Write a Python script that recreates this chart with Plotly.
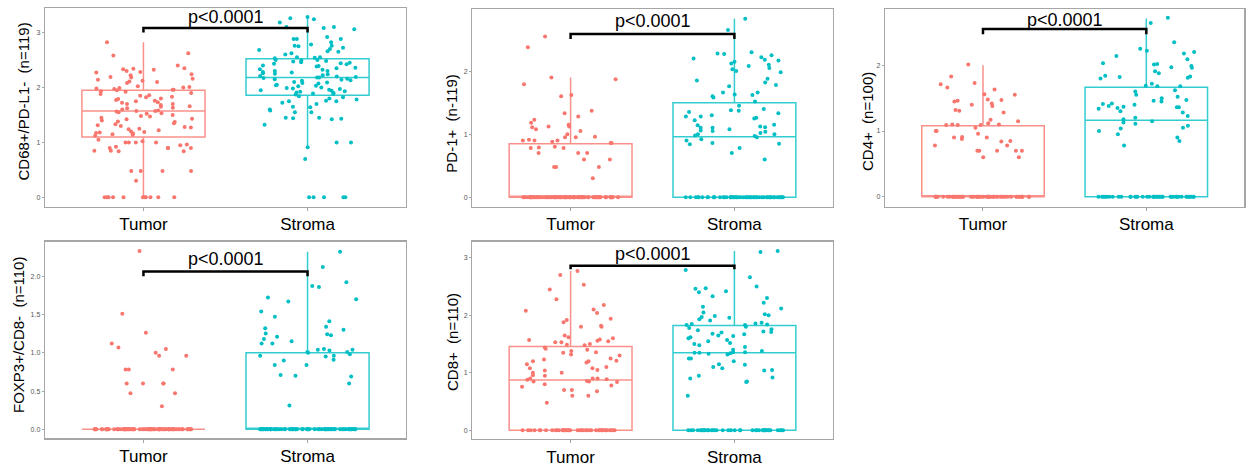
import plotly.graph_objects as go

W, H = 1254, 468

categories = ["Tumor", "Stroma"]
panel_titles = ["CD68+/PD-L1-  (n=119)", "PD-1+  (n-119)", "CD4+  (n=100)",
                "FOXP3+/CD8-  (n=110)", "CD8+  (n=110)"]
p_label = "p<0.0001"

# ---------------- point values ----------------
cd68_tumor = [2.82, 2.62, 2.58, 2.40, 2.35, 2.34, 2.33, 2.32, 2.30, 2.28, 2.27, 2.24, 2.22, 2.19,
              2.18, 2.16, 2.14, 2.12, 2.11, 2.10, 2.08, 2.02, 2.01, 2.00, 1.99, 1.98, 1.97, 1.96,
              1.96, 1.95,
              1.93, 1.92, 1.90, 1.88, 1.86, 1.85, 1.83, 1.82, 1.80, 1.79, 1.77, 1.76, 1.75, 1.73,
              1.72, 1.70, 1.70, 1.68, 1.66, 1.65, 1.63, 1.62, 1.60, 1.58, 1.57, 1.57, 1.56, 1.55,
              1.53, 1.52, 1.50, 1.48, 1.47, 1.45, 1.43, 1.42, 1.40, 1.38, 1.37, 1.35, 1.33, 1.31,
              1.30, 1.28, 1.27, 1.25, 1.24, 1.22, 1.20, 1.19, 1.18, 1.17, 1.16, 1.15, 1.14, 1.12,
              1.05, 1.02, 1.00, 1.00, 1.00, 1.00, 0.96, 0.95, 0.92, 0.90, 0.90, 0.90, 0.90, 0.85,
              0.85, 0.84, 0.84, 0.48, 0.48, 0.48, 0.48, 0.30] + [0.0] * 11
cd68_stroma = [3.28, 3.26, 3.24, 3.18, 3.10, 3.10, 3.08, 3.06, 2.92, 2.88, 2.88, 2.88, 2.82, 2.78,
               2.76, 2.76, 2.75, 2.72, 2.70, 2.68, 2.66, 2.65, 2.62, 2.60, 2.55, 2.55, 2.54, 2.53,
               2.50, 2.50, 2.49, 2.48, 2.47, 2.46, 2.45, 2.44, 2.43, 2.42, 2.40, 2.39, 2.38, 2.36,
               2.35, 2.33, 2.32, 2.30, 2.30, 2.28, 2.27, 2.26, 2.25, 2.24, 2.22, 2.21, 2.20, 2.19,
               2.18, 2.18, 2.17, 2.16, 2.15, 2.14, 2.13, 2.12, 2.10, 2.09, 2.08, 2.07, 2.05, 2.04,
               2.03, 2.02, 2.00, 1.99, 1.98, 1.97, 1.96, 1.95, 1.94, 1.93, 1.92, 1.91, 1.90, 1.89,
               1.88, 1.87,
               1.84, 1.82, 1.80, 1.78, 1.76, 1.75, 1.75, 1.72, 1.70, 1.65, 1.64, 1.60, 1.58, 1.55,
               1.55, 1.45, 1.45, 1.44, 1.43, 1.42, 1.32, 1.00, 1.00, 0.91, 0.70] + [0.0] * 5

pd1_tumor = [2.55, 2.38, 1.90, 1.87, 1.79, 1.62, 1.60, 1.37, 1.33, 1.28, 1.23, 1.18, 1.15, 1.12,
             1.12, 1.11, 1.08, 1.05, 1.00, 0.96, 0.95, 0.95, 0.91, 0.90, 0.90, 0.90, 0.88, 0.86,
             0.86,
             0.80, 0.79, 0.78, 0.78, 0.70, 0.70, 0.70, 0.60, 0.60, 0.48, 0.48, 0.48, 0.30] + [0.0] * 77
pd1_stroma = [2.83, 2.65, 2.30, 2.28, 2.27, 2.25, 2.22, 2.20, 2.18, 2.17, 2.15, 2.12, 2.10, 2.08,
              2.05, 2.03, 2.00, 1.98, 1.88, 1.85, 1.82, 1.78, 1.76, 1.66, 1.66, 1.63, 1.62, 1.60,
              1.58, 1.52,
              1.45, 1.40, 1.38, 1.37, 1.35, 1.33, 1.30, 1.28, 1.28, 1.26, 1.25, 1.22, 1.15, 1.14,
              1.12, 1.11, 1.10, 1.10, 1.08, 1.06, 1.05, 1.04, 1.02, 1.00, 1.00, 0.98, 0.97,
              0.95, 0.92, 0.90, 0.86, 0.85, 0.84, 0.78, 0.70, 0.60] + [0.0] * 53

cd4_tumor = [2.01, 1.83, 1.73, 1.71, 1.66, 1.63, 1.56, 1.55, 1.48, 1.47, 1.46, 1.45, 1.42, 1.40,
             1.38, 1.32, 1.31, 1.28, 1.17, 1.15, 1.12, 1.10, 1.10, 1.09, 1.09, 1.09,
             1.05, 1.00, 1.00, 0.96, 0.91, 0.90, 0.90, 0.88, 0.85, 0.84, 0.78, 0.78, 0.70, 0.70,
             0.70, 0.70, 0.70, 0.60, 0.60] + [0.0] * 55
cd4_stroma = [2.72, 2.64, 2.35, 2.25, 2.22, 2.20, 2.18, 2.14, 2.09, 2.03, 2.02, 2.01, 1.99, 1.97,
              1.96, 1.91, 1.88, 1.84, 1.83, 1.82, 1.81, 1.80, 1.72, 1.69, 1.68, 1.68,
              1.62, 1.60, 1.55, 1.52, 1.50, 1.47, 1.46, 1.45, 1.42, 1.41, 1.40, 1.38, 1.37, 1.36,
              1.36, 1.35, 1.34, 1.30, 1.28, 1.23, 1.20, 1.18,
              1.15, 1.13, 1.11, 1.08, 1.05, 1.04, 1.00, 0.95, 0.90, 0.85, 0.78] + [0.0] * 41

foxp3_tumor = [2.33, 1.51, 1.26, 1.12, 1.07, 1.05, 1.00, 0.96, 0.96, 0.78, 0.78, 0.78, 0.60, 0.60,
               0.60, 0.60, 0.47, 0.47, 0.30] + [0.0] * 91
foxp3_stroma = [2.32, 2.12, 1.92, 1.87, 1.86, 1.72, 1.70, 1.67, 1.54, 1.47, 1.41, 1.34, 1.32, 1.30,
                1.25, 1.24, 1.23, 1.21, 1.18, 1.15, 1.12, 1.12, 1.05, 1.04, 1.04, 1.03, 1.01, 1.01,
                1.00, 0.98, 0.96, 0.96, 0.95, 0.91, 0.90, 0.84, 0.84, 0.71, 0.70, 0.69, 0.60,
                0.31] + [0.0] * 68

cd8_tumor = [2.77, 2.70, 2.53, 2.45, 2.28, 2.18, 2.10, 2.08, 2.04, 1.94, 1.92, 1.88, 1.82, 1.80,
             1.80, 1.65, 1.62, 1.60, 1.58, 1.57, 1.56, 1.55, 1.53, 1.53, 1.50, 1.49, 1.48,
             1.44, 1.42, 1.40, 1.38, 1.36, 1.35, 1.32, 1.30, 1.25, 1.23, 1.21, 1.20, 1.20, 1.18,
             1.15, 1.10, 1.08, 1.08, 1.05, 1.04, 1.00, 1.00, 0.96, 0.95, 0.90, 0.90, 0.90, 0.89,
             0.88,
             0.86, 0.85, 0.85, 0.84, 0.80, 0.78, 0.76, 0.70, 0.70, 0.68, 0.60, 0.60, 0.48] + [0.0] * 41
cd8_stroma = [3.12, 3.10, 2.79, 2.66, 2.50, 2.47, 2.46, 2.42, 2.40, 2.33, 2.30, 2.22, 2.15, 2.12,
              2.05, 2.02, 2.00, 1.99, 1.97, 1.96, 1.93, 1.91, 1.87, 1.86, 1.85, 1.84, 1.83, 1.83,
              1.80, 1.78, 1.76, 1.74, 1.72, 1.71, 1.70, 1.68, 1.67, 1.65, 1.64, 1.62, 1.60, 1.57,
              1.55, 1.52, 1.50, 1.48, 1.45, 1.40, 1.38, 1.36, 1.36, 1.35, 1.35,
              1.34, 1.33, 1.32, 1.25, 1.25, 1.20, 1.15, 1.14, 1.10, 1.08, 1.05, 1.04, 0.95, 0.92,
              0.90, 0.85, 0.84, 0.60] + [0.0] * 39

panel_points = [(cd68_tumor, cd68_stroma), (pd1_tumor, pd1_stroma), (cd4_tumor, cd4_stroma),
                (foxp3_tumor, foxp3_stroma), (cd8_tumor, cd8_stroma)]

# ---------------- box statistics, [Tumor, Stroma] ----------------
box_q1 = [[1.10, 1.86], [0.0, 0.0], [0.0, 0.0], [0.0, 0.0], [0.0, 0.0]]
box_median = [[1.57, 2.18], [0.0, 0.96], [0.0, 1.165], [0.0, 0.0], [0.874, 1.35]]
box_q3 = [[1.95, 2.52], [0.85, 1.50], [1.08, 1.666], [0.0, 1.00], [1.46, 1.824]]
box_low = [[0.0, 0.91], [0.0, 0.0], [0.0, 0.0], [0.0, 0.0], [0.0, 0.0]]
box_high = [[2.82, 3.26], [1.90, 2.83], [2.00, 2.71], [0.0, 2.32], [2.77, 3.12]]

# significance brackets: (end tip, bar level, label level)
bracket_tip = [3.00, 2.51, 2.47, 2.00, 2.80]
bracket_bar = [3.08, 2.59, 2.55, 2.06, 2.86]
label_level = [3.28, 2.79, 2.68, 2.22, 3.06]

# axis ticks
y_tickvals = [[0, 1, 2, 3], [0, 1, 2], [0, 1, 2], [0, 0.5, 1, 1.5, 2], [0, 1, 2, 3]]
y_ticktext = [["0", "1", "2", "3"], ["0", "1", "2"], ["0", "1", "2"],
              ["0.0", "0.5", "1.0", "1.5", "2.0"], ["0", "1", "2", "3"]]
y_ranges = [[-0.17, 3.44], [-0.15, 2.98], [-0.15, 2.85], [-0.117, 2.45], [-0.15, 3.28]]

# ---------------- layout geometry (pixels) ----------------
frames = [(45, 406, 8.3, 206.7), (472.3, 832.7, 9.3, 206.7), (885, 1244.3, 9.3, 206.7),
          (45, 406, 241.7, 438.3), (472.3, 832.7, 241.7, 439)]
ytitle_pos = [(23, 101.5), (451.7, 123), (868, 122), (18, 335), (452, 342)]

point_colors = ["#F8766D", "#00BFC4"]
line_colors = ["rgba(248,118,109,0.8)", "rgba(0,191,196,0.8)"]
FONT = "Liberation Sans, Arial, sans-serif"


def jitter_offsets(n, phase):
    # deterministic horizontal jitter (display only), spread over +/-0.3 category units
    a, b = 0.6180339887, 0.2071067812
    return [(((k * a + k * k * b + phase) % 1.0) - 0.5) * 0.6 for k in range(n)]


fig = go.Figure()
annotations = []
layout_axes = {}

for i in range(5):
    xa = "x" if i == 0 else f"x{i+1}"
    ya = "y" if i == 0 else f"y{i+1}"
    for j in range(2):
        vals = panel_points[i][j]
        offs = jitter_offsets(len(vals), 0.13 + 0.37 * j + 0.11 * i)
        fig.add_trace(go.Scatter(
            x=[(j + 1) + o for o in offs], y=vals, mode="markers",
            marker=dict(color=point_colors[j], size=4, line=dict(width=0)),
            xaxis=xa, yaxis=ya, showlegend=False, hoverinfo="skip"))
    for j in range(2):
        fig.add_trace(go.Box(
            x=[j + 1], q1=[box_q1[i][j]], median=[box_median[i][j]], q3=[box_q3[i][j]],
            lowerfence=[box_low[i][j]], upperfence=[box_high[i][j]],
            width=0.75, whiskerwidth=0, boxpoints=False,
            fillcolor="rgba(255,255,255,0.5)",
            line=dict(color=line_colors[j], width=1.5),
            xaxis=xa, yaxis=ya, showlegend=False, hoverinfo="skip"))
    fig.add_trace(go.Scatter(
        x=[1, 1, 2, 2], y=[bracket_tip[i], bracket_bar[i], bracket_bar[i], bracket_tip[i]],
        mode="lines", line=dict(color="black", width=2.5),
        xaxis=xa, yaxis=ya, showlegend=False, hoverinfo="skip"))
    annotations.append(dict(
        x=1.5, y=label_level[i], xref=xa, yref=ya, text=p_label, showarrow=False,
        font=dict(family=FONT, size=18, color="black"), xanchor="center", yanchor="middle"))
    tx, ty = ytitle_pos[i]
    annotations.append(dict(
        x=tx / W, y=1 - ty / H, xref="paper", yref="paper", text=panel_titles[i],
        textangle=-90, showarrow=False, font=dict(family=FONT, size=15, color="black"),
        xanchor="center", yanchor="middle"))

    l, r, t, b = frames[i]
    xkey = "xaxis" if i == 0 else f"xaxis{i+1}"
    ykey = "yaxis" if i == 0 else f"yaxis{i+1}"
    layout_axes[xkey] = dict(
        domain=[l / W, r / W], anchor=ya, range=[0.4, 2.6],
        tickmode="array", tickvals=[1, 2], ticktext=categories,
        showline=True, mirror=True, linecolor="#a6a6a6", linewidth=1.3,
        ticks="outside", ticklen=3, tickcolor="#a6a6a6", tickwidth=1,
        tickfont=dict(family=FONT, size=17, color="black"),
        ticklabelstandoff=-1,
        showgrid=False, zeroline=False)
    layout_axes[ykey] = dict(
        domain=[1 - b / H, 1 - t / H], anchor=xa, range=y_ranges[i],
        tickmode="array", tickvals=y_tickvals[i], ticktext=y_ticktext[i],
        showline=True, mirror=True, linecolor="#a6a6a6", linewidth=1.3,
        ticks="outside", ticklen=2, tickcolor="#a6a6a6", tickwidth=1,
        tickfont=dict(family=FONT, size=7, color="#555555"),
        showgrid=False, zeroline=False)

fig.update_layout(
    width=W, height=H, margin=dict(l=0, r=0, t=0, b=0),
    paper_bgcolor="white", plot_bgcolor="white",
    showlegend=False, boxmode="overlay", hovermode=False,
    annotations=annotations, **layout_axes)

fig.write_html("out.html", config={"displayModeBar": False, "staticPlot": True},
               post_script="document.body.style.margin='0px';document.body.style.overflow='hidden';")
